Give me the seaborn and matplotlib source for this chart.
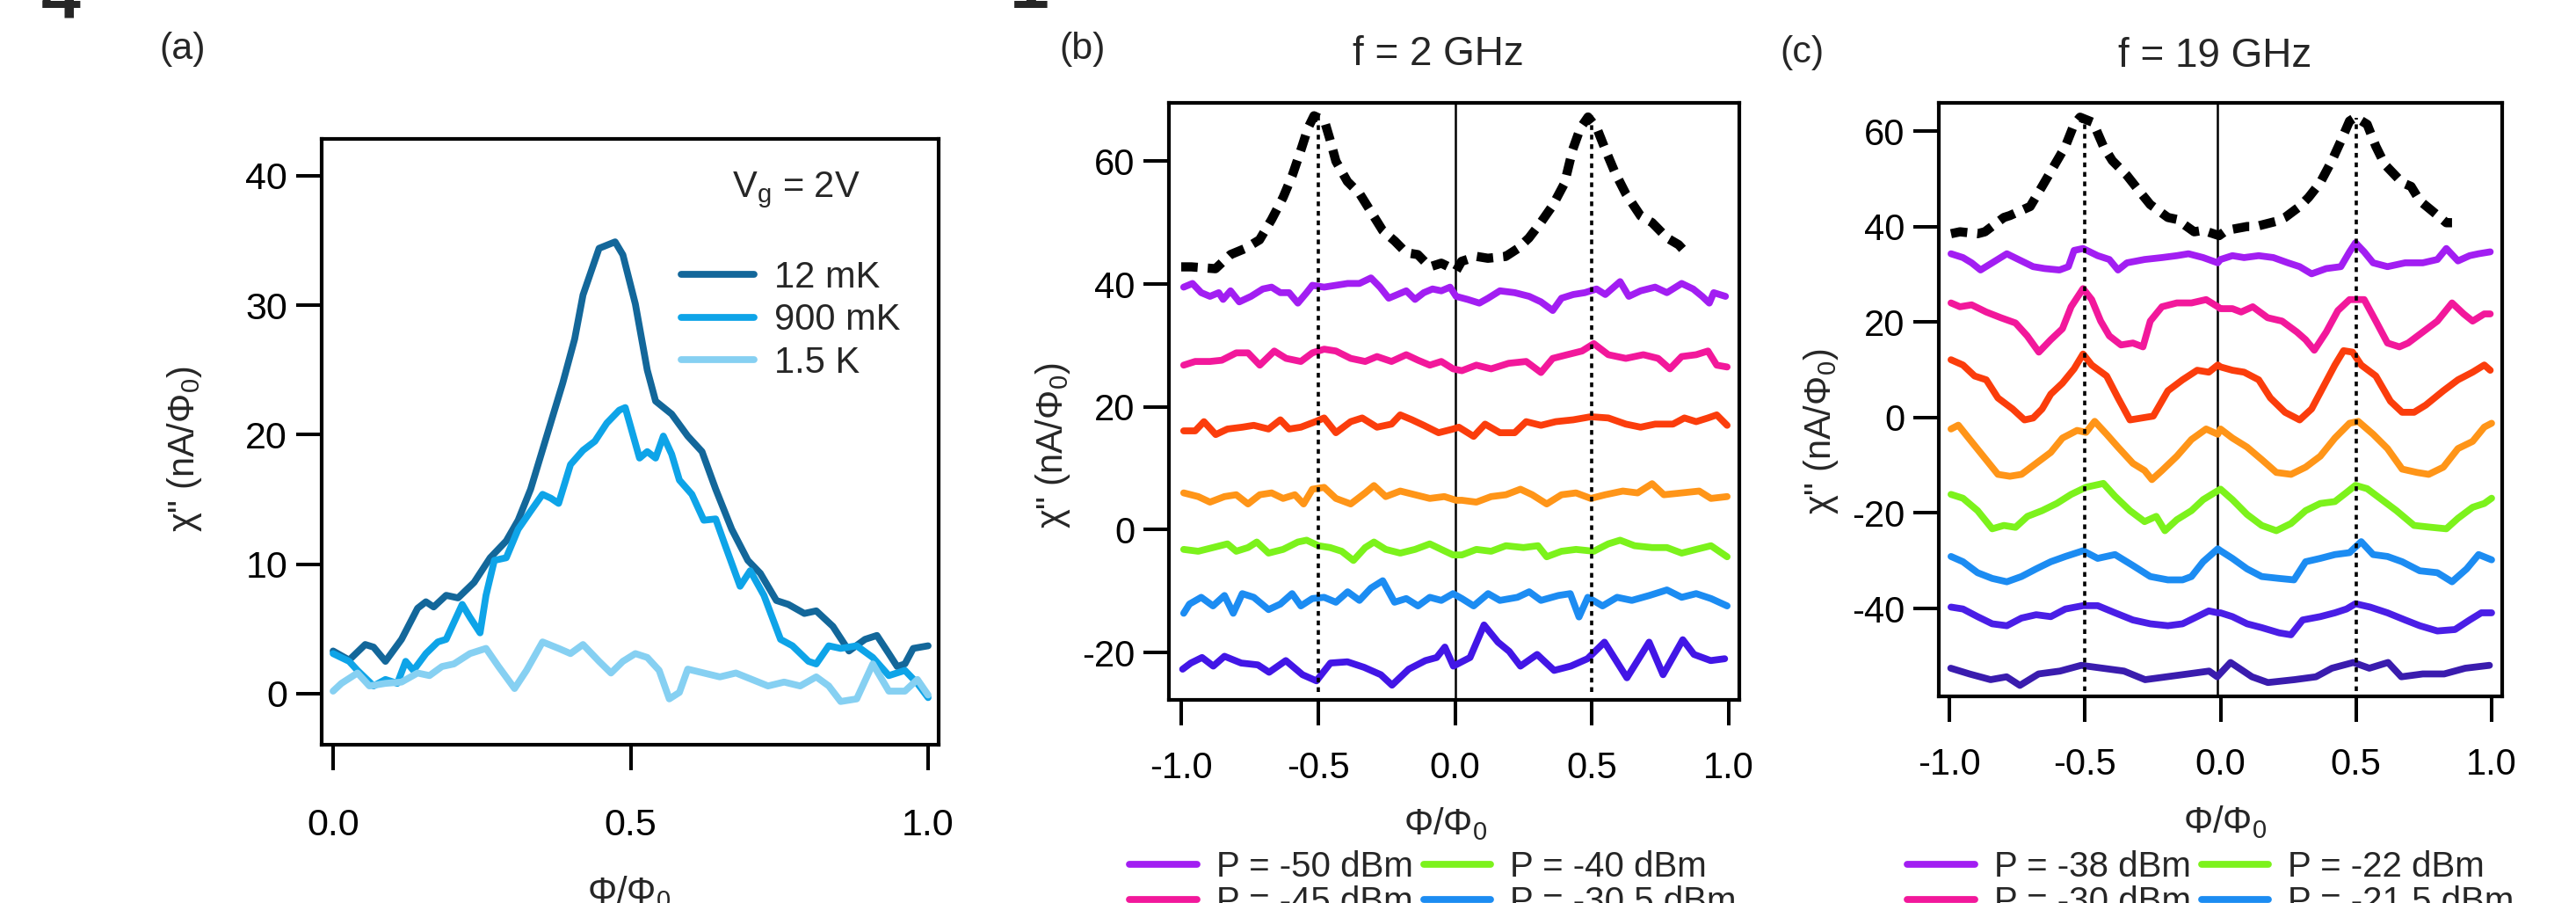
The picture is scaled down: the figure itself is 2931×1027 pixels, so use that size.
import matplotlib
matplotlib.use("Agg")
import matplotlib.pyplot as plt
import seaborn as sns
from matplotlib.lines import Line2D

# ---------------- data ----------------
# (a) temperature dependence, Vg = 2 V
a_12mK_x = [0.0, 0.027, 0.054, 0.068, 0.088, 0.115, 0.142, 0.156, 0.169, 0.190, 0.210, 0.237, 0.264, 0.291,
            0.311, 0.332, 0.359, 0.386, 0.406, 0.420, 0.447, 0.474, 0.487, 0.508, 0.528, 0.542, 0.569, 0.596,
            0.620, 0.643, 0.670, 0.697, 0.718, 0.745, 0.765, 0.792, 0.812, 0.840, 0.867, 0.894, 0.914, 0.934,
            0.948, 0.961, 0.975, 1.0]
a_12mK_y = [3.3, 2.6, 3.8, 3.6, 2.5, 4.2, 6.6, 7.1, 6.7, 7.6, 7.4, 8.6, 10.5, 11.8, 13.4, 15.8, 19.9, 24.0,
            27.4, 30.8, 34.4, 34.9, 33.9, 30.1, 25.0, 22.6, 21.6, 19.9, 18.7, 15.8, 12.7, 10.3, 9.3, 7.2, 6.9,
            6.2, 6.4, 5.2, 3.3, 4.2, 4.5, 3.1, 2.1, 2.3, 3.5, 3.7]
a_900mK_x = [0.0, 0.027, 0.041, 0.068, 0.088, 0.108, 0.122, 0.135, 0.156, 0.176, 0.190, 0.203, 0.217, 0.230,
             0.247, 0.257, 0.271, 0.291, 0.311, 0.332, 0.352, 0.366, 0.379, 0.399, 0.420, 0.440, 0.460, 0.481,
             0.491, 0.515, 0.528, 0.542, 0.555, 0.569, 0.582, 0.603, 0.623, 0.643, 0.657, 0.684, 0.701, 0.724,
             0.752, 0.772, 0.799, 0.812, 0.833, 0.853, 0.880, 0.907, 0.934, 0.961, 0.982, 1.0]
a_900mK_y = [3.1, 2.5, 1.8, 0.6, 1.1, 0.8, 2.5, 1.8, 3.1, 4.0, 4.2, 5.5, 6.9, 5.9, 4.7, 7.6, 10.3, 10.5, 12.7,
             14.1, 15.4, 15.1, 14.7, 17.7, 18.8, 19.5, 20.9, 21.9, 22.1, 18.2, 18.7, 18.2, 19.9, 18.5, 16.5,
             15.4, 13.4, 13.5, 11.7, 8.3, 9.5, 7.6, 4.2, 3.7, 2.5, 2.3, 3.7, 3.5, 3.7, 2.8, 1.4, 1.8, 0.8, -0.3]
a_1p5K_x = [0.0, 0.014, 0.041, 0.061, 0.088, 0.115, 0.142, 0.162, 0.183, 0.203, 0.230, 0.257, 0.278, 0.305,
            0.325, 0.352, 0.379, 0.399, 0.420, 0.447, 0.467, 0.487, 0.508, 0.528, 0.548, 0.565, 0.582, 0.596,
            0.623, 0.650, 0.677, 0.704, 0.731, 0.758, 0.785, 0.812, 0.833, 0.853, 0.880, 0.907, 0.934, 0.961,
            0.982, 1.0]
a_1p5K_y = [0.2, 0.8, 1.6, 0.6, 0.8, 0.9, 1.6, 1.4, 2.1, 2.3, 3.1, 3.5, 2.1, 0.4, 1.8, 4.0, 3.5, 3.1, 3.8, 2.5,
            1.6, 2.5, 3.1, 2.8, 1.8, -0.4, 0.1, 1.9, 1.6, 1.3, 1.6, 1.1, 0.6, 0.9, 0.6, 1.3, 0.6, -0.6, -0.4,
            2.3, 0.2, 0.2, 1.1, -0.1]
a_labels = ["12 mK", "900 mK", "1.5 K"]
a_colors = ["#13679a", "#0ea4e8", "#86d0f2"]

# (b) f = 2 GHz
b_ref_x = [-1.0, -0.963, -0.875, -0.82, -0.766, -0.714, -0.67, -0.628, -0.595, -0.563, -0.537, -0.515, -0.477,
           -0.457, -0.435, -0.393, -0.348, -0.306, -0.264, -0.22, -0.178, -0.136, -0.092, -0.05, 0.005, 0.024,
           0.079, 0.12, 0.185, 0.23, 0.27, 0.313, 0.357, 0.40, 0.43, 0.458, 0.486, 0.518, 0.55, 0.583, 0.624,
           0.678, 0.72, 0.775, 0.817, 0.85]
b_ref_y = [42.8, 42.8, 42.5, 44.8, 45.8, 47.2, 50.5, 54.1, 57.6, 61.8, 65.4, 67.4, 66.6, 63.6, 60.0, 56.7, 54.7,
           51.7, 48.7, 47.0, 45.1, 44.8, 42.8, 43.4, 42.2, 43.7, 44.5, 44.2, 44.5, 45.8, 47.5, 50.0, 52.8, 56.4,
           61.9, 65.4, 67.2, 65.4, 61.8, 58.3, 54.7, 51.1, 50.0, 47.5, 46.4, 44.8]
b_purple_x = [-0.991, -0.959, -0.927, -0.895, -0.863, -0.847, -0.82, -0.788, -0.745, -0.702, -0.67, -0.638,
              -0.606, -0.574, -0.542, -0.521, -0.478, -0.435, -0.392, -0.349, -0.307, -0.274, -0.242, -0.21,
              -0.178, -0.146, -0.114, -0.082, -0.05, -0.018, 0.004, 0.046, 0.089, 0.121, 0.164, 0.218, 0.271,
              0.314, 0.357, 0.389, 0.432, 0.474, 0.517, 0.549, 0.603, 0.635, 0.678, 0.731, 0.774, 0.828, 0.87,
              0.903, 0.929, 0.945, 0.988]
b_purple_y = [39.5, 40.1, 38.6, 38.0, 38.6, 37.5, 38.9, 37.1, 38.0, 39.2, 39.5, 38.6, 38.6, 36.9, 38.6, 39.8,
              39.5, 39.8, 40.1, 40.1, 41.0, 39.5, 37.7, 38.3, 38.9, 37.5, 38.6, 39.2, 38.9, 39.5, 38.0, 37.5,
              36.9, 37.7, 38.9, 38.6, 38.0, 37.1, 35.7, 37.7, 38.3, 38.6, 39.2, 38.3, 40.4, 38.0, 38.9, 39.5,
              38.6, 40.1, 39.2, 38.0, 36.9, 38.6, 38.0]
b_pink_x = [-0.991, -0.949, -0.895, -0.852, -0.799, -0.756, -0.713, -0.66, -0.617, -0.563, -0.521, -0.478,
            -0.435, -0.381, -0.328, -0.285, -0.232, -0.178, -0.135, -0.092, -0.05, -0.007, 0.025, 0.078, 0.132,
            0.196, 0.26, 0.314, 0.357, 0.41, 0.464, 0.507, 0.56, 0.624, 0.688, 0.742, 0.785, 0.828, 0.881,
            0.924, 0.956, 0.994]
b_pink_y = [26.8, 27.4, 27.4, 27.6, 28.8, 28.8, 26.8, 29.1, 27.9, 27.4, 28.8, 29.4, 29.1, 27.9, 27.4, 28.2,
            27.4, 28.5, 27.6, 26.8, 27.4, 26.2, 25.9, 26.8, 26.2, 27.1, 27.4, 25.6, 27.9, 28.5, 29.1, 30.3,
            28.5, 27.9, 28.5, 27.9, 26.2, 28.2, 28.5, 29.1, 26.8, 26.5]
b_red_x = [-0.991, -0.949, -0.917, -0.874, -0.831, -0.777, -0.735, -0.681, -0.638, -0.606, -0.563, -0.51,
           -0.478, -0.435, -0.381, -0.339, -0.285, -0.232, -0.2, -0.157, -0.114, -0.06, -0.007, 0.014, 0.068,
           0.11, 0.164, 0.218, 0.26, 0.314, 0.368, 0.432, 0.496, 0.56, 0.624, 0.678, 0.731, 0.796, 0.838,
           0.881, 0.924, 0.956, 0.994]
b_red_y = [16.1, 16.1, 17.6, 15.5, 16.4, 16.7, 17.0, 16.4, 17.9, 16.4, 16.7, 17.6, 18.2, 15.8, 17.6, 18.2,
           16.7, 17.2, 18.7, 17.9, 17.0, 15.8, 16.4, 16.7, 15.2, 17.2, 15.8, 15.8, 17.6, 17.0, 17.6, 17.9,
           18.4, 18.2, 17.2, 16.7, 17.2, 17.2, 18.2, 17.6, 18.2, 18.7, 17.0]
b_orange_x = [-0.991, -0.938, -0.895, -0.842, -0.799, -0.756, -0.713, -0.67, -0.628, -0.585, -0.553, -0.521,
              -0.478, -0.435, -0.381, -0.328, -0.296, -0.253, -0.2, -0.146, -0.092, -0.039, 0.004, 0.025,
              0.078, 0.132, 0.186, 0.239, 0.282, 0.335, 0.389, 0.442, 0.496, 0.549, 0.613, 0.667, 0.72, 0.763,
              0.828, 0.892, 0.935, 0.994]
b_orange_y = [6.0, 5.4, 4.5, 5.4, 5.7, 4.2, 5.7, 6.0, 5.1, 5.7, 4.2, 6.6, 6.9, 5.1, 4.2, 6.0, 7.2, 5.4, 6.3,
              5.7, 5.1, 5.4, 4.8, 4.8, 4.5, 5.4, 5.7, 6.6, 5.7, 4.2, 5.7, 6.0, 5.1, 5.7, 6.3, 6.0, 7.5, 5.7,
              6.0, 6.3, 5.1, 5.4]
b_green_x = [-0.991, -0.938, -0.884, -0.831, -0.799, -0.756, -0.724, -0.681, -0.628, -0.574, -0.542, -0.499,
             -0.456, -0.414, -0.371, -0.328, -0.296, -0.253, -0.2, -0.146, -0.092, -0.05, -0.007, 0.025, 0.078,
             0.132, 0.186, 0.25, 0.303, 0.335, 0.389, 0.442, 0.507, 0.56, 0.603, 0.656, 0.72, 0.774, 0.828,
             0.881, 0.935, 0.994]
b_green_y = [-3.2, -3.5, -2.9, -2.3, -3.5, -2.9, -2.0, -3.8, -3.2, -2.0, -1.7, -2.6, -2.9, -3.5, -5.0, -2.9,
             -2.0, -3.2, -3.8, -3.2, -2.3, -3.2, -4.1, -4.1, -3.2, -3.5, -2.6, -2.9, -2.6, -4.4, -3.5, -3.2,
             -3.5, -2.3, -1.7, -2.6, -2.9, -2.9, -3.8, -3.2, -2.6, -4.4]
b_blue_x = [-0.991, -0.97, -0.927, -0.884, -0.842, -0.81, -0.777, -0.735, -0.681, -0.638, -0.595, -0.563,
            -0.521, -0.478, -0.435, -0.392, -0.349, -0.307, -0.264, -0.221, -0.178, -0.135, -0.092, -0.05,
            -0.007, 0.025, 0.068, 0.121, 0.164, 0.228, 0.271, 0.314, 0.378, 0.421, 0.453, 0.485, 0.539, 0.592,
            0.646, 0.71, 0.774, 0.828, 0.881, 0.935, 0.994]
b_blue_y = [-13.6, -12.1, -11.0, -12.4, -10.7, -13.6, -10.4, -11.0, -13.0, -12.1, -10.4, -12.4, -11.2, -11.0,
            -11.8, -10.1, -11.5, -9.5, -8.3, -11.8, -11.2, -12.4, -11.0, -11.5, -10.4, -11.2, -12.4, -10.4,
            -11.5, -11.0, -10.1, -11.5, -10.7, -10.4, -14.2, -11.0, -12.4, -11.0, -11.5, -10.7, -9.8, -11.0,
            -10.4, -11.2, -12.4]
b_indigo_x = [-0.995, -0.965, -0.924, -0.883, -0.842, -0.781, -0.72, -0.679, -0.618, -0.557, -0.506, -0.455,
              -0.393, -0.332, -0.271, -0.23, -0.169, -0.108, -0.067, -0.037, -0.006, 0.055, 0.106, 0.157,
              0.198, 0.239, 0.3, 0.362, 0.423, 0.484, 0.546, 0.628, 0.709, 0.76, 0.832, 0.873, 0.934, 0.985]
b_indigo_y = [-22.7, -21.7, -20.8, -22.2, -20.6, -21.7, -22.0, -23.2, -21.3, -23.6, -24.6, -21.7, -21.5,
              -22.4, -23.6, -25.3, -22.7, -21.3, -20.8, -19.1, -22.2, -20.8, -15.5, -18.3, -19.8, -22.2,
              -20.3, -22.9, -22.2, -21.0, -18.3, -24.1, -18.3, -23.6, -17.9, -20.3, -21.3, -21.0]
b_legend = ["P = -50 dBm", "P = -45 dBm", "P = -40 dBm", "P = -30.5 dBm"]

# (c) f = 19 GHz
c_ref_x = [-0.994, -0.961, -0.896, -0.869, -0.799, -0.777, -0.702, -0.658, -0.615, -0.572, -0.54, -0.518,
           -0.47, -0.432, -0.399, -0.345, -0.302, -0.259, -0.194, -0.161, -0.097, -0.064, -0.005, 0.022, 0.098,
           0.13, 0.206, 0.238, 0.292, 0.325, 0.368, 0.411, 0.444, 0.476, 0.498, 0.541, 0.573, 0.606, 0.67,
           0.703, 0.735, 0.778, 0.833, 0.854]
c_ref_y = [38.5, 38.9, 38.5, 38.9, 41.9, 42.3, 44.2, 48.4, 52.6, 56.8, 61.4, 62.9, 61.8, 56.8, 53.8, 50.7,
           47.6, 44.6, 41.9, 41.5, 38.9, 39.2, 38.1, 39.2, 40.0, 40.0, 41.1, 41.9, 44.2, 46.1, 49.2, 53.8,
           57.9, 62.1, 62.9, 61.4, 56.8, 53.0, 49.2, 48.4, 45.4, 43.4, 40.8, 40.8]
c_purple_x = [-0.994, -0.95, -0.918, -0.885, -0.842, -0.788, -0.745, -0.691, -0.648, -0.594, -0.561, -0.54,
              -0.507, -0.453, -0.41, -0.378, -0.345, -0.28, -0.216, -0.161, -0.118, -0.064, -0.01, 0.0, 0.044,
              0.087, 0.141, 0.195, 0.249, 0.292, 0.336, 0.39, 0.444, 0.476, 0.498, 0.53, 0.563, 0.616, 0.681,
              0.746, 0.8, 0.833, 0.876, 0.919, 0.952, 0.995]
c_purple_y = [34.3, 33.5, 32.4, 30.9, 32.4, 34.3, 33.1, 31.6, 31.2, 30.9, 31.6, 35.0, 35.4, 33.9, 33.1, 30.9,
              32.4, 33.1, 33.5, 33.9, 34.3, 33.5, 32.4, 33.1, 33.9, 33.5, 33.9, 33.5, 32.4, 31.6, 30.1, 31.2,
              31.6, 34.7, 36.6, 34.7, 32.4, 31.6, 32.4, 32.4, 33.1, 35.4, 32.8, 33.9, 34.3, 34.7]
c_pink_x = [-0.994, -0.961, -0.918, -0.864, -0.81, -0.756, -0.713, -0.67, -0.626, -0.583, -0.551, -0.507,
            -0.475, -0.442, -0.41, -0.367, -0.323, -0.286, -0.259, -0.216, -0.161, -0.107, -0.053, -0.01, 0.0,
            0.044, 0.076, 0.119, 0.174, 0.227, 0.282, 0.314, 0.346, 0.39, 0.433, 0.476, 0.53, 0.573, 0.616,
            0.66, 0.692, 0.746, 0.8, 0.854, 0.897, 0.93, 0.973, 0.995]
c_pink_y = [24.0, 23.2, 23.6, 22.1, 20.9, 19.8, 17.1, 13.7, 16.3, 18.6, 23.2, 27.0, 24.7, 20.2, 17.1, 15.2,
            15.6, 14.8, 20.2, 23.2, 24.0, 24.0, 24.7, 23.2, 22.8, 22.8, 22.1, 23.2, 20.9, 20.2, 17.9, 16.3,
            14.1, 17.9, 22.4, 24.7, 24.7, 20.2, 15.6, 14.8, 15.6, 17.9, 20.2, 24.0, 21.7, 20.2, 21.7, 21.7]
c_red_x = [-0.994, -0.95, -0.907, -0.864, -0.821, -0.767, -0.723, -0.691, -0.658, -0.626, -0.583, -0.54,
           -0.507, -0.475, -0.42, -0.378, -0.334, -0.291, -0.248, -0.194, -0.14, -0.086, -0.043, -0.01, 0.0,
           0.044, 0.087, 0.141, 0.184, 0.238, 0.292, 0.336, 0.379, 0.422, 0.454, 0.487, 0.519, 0.573, 0.627,
           0.67, 0.714, 0.757, 0.822, 0.876, 0.93, 0.973, 0.995]
c_red_y = [12.1, 11.0, 8.7, 7.9, 4.1, 1.8, -0.5, -0.1, 1.8, 4.9, 7.2, 10.2, 13.3, 11.0, 8.7, 4.1, -0.5, -0.1,
           0.3, 5.6, 7.9, 9.9, 9.5, 11.0, 10.6, 9.9, 9.5, 7.9, 4.1, 1.1, -0.5, 1.8, 6.4, 11.0, 14.0, 13.7,
           11.0, 8.7, 3.4, 1.1, 1.1, 2.6, 5.6, 7.9, 9.5, 11.0, 9.9]
c_orange_x = [-0.994, -0.967, -0.929, -0.875, -0.821, -0.777, -0.734, -0.68, -0.626, -0.583, -0.529, -0.496,
              -0.464, -0.42, -0.378, -0.323, -0.28, -0.253, -0.216, -0.161, -0.107, -0.053, -0.01, 0.0, 0.044,
              0.098, 0.152, 0.206, 0.26, 0.314, 0.368, 0.422, 0.476, 0.508, 0.563, 0.616, 0.67, 0.725, 0.768,
              0.822, 0.876, 0.93, 0.973, 1.0]
c_orange_y = [-2.4, -1.6, -4.3, -8.1, -11.9, -12.3, -11.9, -9.6, -7.3, -4.3, -2.7, -3.1, -0.8, -3.5, -6.2,
              -9.6, -11.1, -13.0, -11.1, -8.1, -4.6, -2.4, -3.5, -2.4, -4.3, -6.2, -8.8, -11.5, -11.9, -10.4,
              -8.1, -4.3, -1.2, -0.8, -3.5, -6.5, -10.8, -11.5, -11.9, -10.4, -6.5, -5.0, -2.0, -1.2]
c_green_x = [-0.994, -0.95, -0.896, -0.842, -0.799, -0.756, -0.712, -0.658, -0.604, -0.551, -0.496, -0.432,
             -0.389, -0.334, -0.28, -0.237, -0.205, -0.161, -0.107, -0.064, -0.021, 0.0, 0.044, 0.098, 0.152,
             0.206, 0.26, 0.314, 0.368, 0.422, 0.465, 0.498, 0.541, 0.595, 0.649, 0.714, 0.779, 0.833, 0.876,
             0.93, 0.973, 1.0]
c_green_y = [-16.1, -16.9, -19.5, -23.3, -22.6, -23.0, -20.7, -19.5, -18.0, -16.1, -14.6, -13.8, -16.5,
             -19.5, -21.8, -20.7, -23.7, -21.4, -19.5, -17.2, -15.7, -15.0, -17.2, -20.3, -22.6, -23.7, -22.2,
             -19.5, -18.0, -17.6, -15.7, -14.2, -14.9, -17.2, -19.5, -22.6, -23.0, -23.3, -21.1, -18.8, -18.0,
             -16.9]
c_blue_x = [-0.994, -0.95, -0.896, -0.842, -0.788, -0.734, -0.68, -0.626, -0.572, -0.507, -0.453, -0.389,
            -0.323, -0.259, -0.194, -0.14, -0.107, -0.064, -0.01, 0.0, 0.044, 0.098, 0.152, 0.217, 0.271,
            0.314, 0.368, 0.422, 0.476, 0.519, 0.563, 0.616, 0.67, 0.735, 0.8, 0.854, 0.908, 0.952, 1.0]
c_blue_y = [-29.1, -30.2, -32.5, -33.7, -34.4, -33.3, -31.7, -30.2, -29.1, -27.9, -29.5, -28.7, -31.0, -33.3,
            -34.0, -34.0, -33.3, -30.2, -27.5, -27.9, -29.5, -31.7, -33.3, -33.7, -34.0, -30.2, -29.5, -28.7,
            -28.3, -26.0, -28.7, -29.1, -30.2, -32.1, -32.5, -34.4, -31.7, -28.7, -29.8]
c_violet_x = [-0.994, -0.95, -0.896, -0.842, -0.788, -0.734, -0.68, -0.626, -0.572, -0.507, -0.453, -0.389,
              -0.323, -0.259, -0.194, -0.14, -0.086, -0.043, -0.01, 0.0, 0.044, 0.098, 0.152, 0.217, 0.26,
              0.303, 0.368, 0.422, 0.465, 0.498, 0.552, 0.616, 0.681, 0.735, 0.8, 0.865, 0.919, 0.962, 1.0]
c_violet_y = [-39.7, -40.1, -41.7, -43.2, -43.6, -42.0, -41.3, -41.7, -40.1, -39.4, -39.4, -40.9, -42.4,
              -43.2, -43.6, -43.2, -41.7, -40.5, -40.9, -40.9, -41.7, -43.2, -44.0, -45.1, -45.5, -42.4, -41.7,
              -40.9, -40.1, -39.0, -39.7, -40.9, -42.4, -43.6, -44.7, -44.4, -42.4, -40.9, -40.9]
c_indigo_x = [-0.995, -0.926, -0.848, -0.789, -0.74, -0.671, -0.592, -0.514, -0.435, -0.356, -0.278, -0.199,
              -0.12, -0.042, -0.012, 0.037, 0.116, 0.175, 0.273, 0.352, 0.411, 0.49, 0.549, 0.618, 0.667, 0.746,
              0.825, 0.903, 0.992]
c_indigo_y = [-52.5, -53.7, -54.9, -54.3, -56.1, -53.7, -53.1, -51.9, -52.5, -53.1, -54.9, -54.3, -53.7,
              -53.1, -54.3, -51.3, -54.3, -55.5, -54.9, -54.3, -52.5, -51.3, -52.5, -51.3, -54.3, -53.7, -53.7,
              -52.5, -51.9]
c_legend = ["P = -38 dBm", "P = -30 dBm", "P = -22 dBm", "P = -21.5 dBm"]

trace_colors = {
    "purple": "#a21ef2", "pink": "#f2189b", "red": "#fb3d0c", "orange": "#ff9518",
    "green": "#7cf21c", "blue": "#1c8cf2", "indigo": "#4216e6", "violet": "#4a1ee6",
    "deep": "#3a1cae",
}

# ---------------- style ----------------
sns.set_theme(style="ticks")
plt.rcParams["font.family"] = ["Liberation Sans", "DejaVu Sans"]
plt.rcParams["mathtext.fontset"] = "custom"
plt.rcParams["mathtext.rm"] = "Liberation Sans"
plt.rcParams["mathtext.it"] = "Liberation Sans:italic"
plt.rcParams["mathtext.sf"] = "Liberation Sans"
plt.rcParams["axes.unicode_minus"] = False

W, H = 2931, 1027
fig = plt.figure(figsize=(W / 100, H / 100), dpi=100)
fig.patch.set_facecolor("white")

LABEL_FS = 29
TRACE_LW = 5.6


def px_axes(l, t, r, b):
    return fig.add_axes([l / W, 1 - b / H, (r - l) / W, (b - t) / H])


def ftext(x, y, s, **kw):
    fig.text(x / W, 1 - y / H, s, **kw)


def style_axes(ax, xpad, tick_fs):
    for sp in ax.spines.values():
        sp.set_linewidth(3.0)
        sp.set_color("black")
        sp.set_visible(True)
    ax.tick_params(axis="both", direction="out", length=21, width=2.9, colors="black",
                   labelsize=tick_fs)
    ax.tick_params(axis="y", pad=7)
    ax.tick_params(axis="x", pad=xpad)
    ax.set_facecolor("white")
    ax.set_xlabel("")
    ax.set_ylabel("")


def trace(ax, xs, ys, color, lw=TRACE_LW, **kw):
    sns.lineplot(x=xs, y=ys, ax=ax, color=color, linewidth=lw, estimator=None, sort=False,
                 legend=False, **kw)


# ---------------- panel (a) ----------------
ax_a = px_axes(366, 158, 1068, 847)
for xs, ys, c in zip([a_12mK_x, a_900mK_x, a_1p5K_x], [a_12mK_y, a_900mK_y, a_1p5K_y], a_colors):
    trace(ax_a, xs, ys, c)
ax_a.set_xlim(-0.0192, 1.0177)
ax_a.set_ylim(-3.94, 42.85)
ax_a.set_yticks([0, 10, 20, 30, 40])
ax_a.set_xticks([0.0, 0.5, 1.0])
ax_a.set_xticklabels(["0.0", "0.5", "1.0"])
style_axes(ax_a, xpad=31, tick_fs=31)
handles_a = [Line2D([], [], color=c, lw=TRACE_LW) for c in a_colors]
ax_a.legend(handles_a, a_labels, loc="upper left", bbox_to_anchor=(775 / W, 1 - 296 / H),
            bbox_transform=fig.transFigure, frameon=False, borderpad=0, borderaxespad=0,
            handlelength=2.0, handletextpad=0.55, labelspacing=0.2, fontsize=30)
ftext(906, 216, r"V$_\mathrm{g}$ = 2V", fontsize=30, ha="center", va="center")


def power_panel(ax, ref_x, ref_y, traces, xlim, ylim, yticks, zero_x, dot_span, legend_labels,
                legend_anchor, colsp):
    ax.axvline(zero_x, color="black", lw=1.8, zorder=1)
    ax.vlines([-0.5, 0.5], dot_span[0], dot_span[1], colors="black", lw=2.6,
              linestyles=[(0, (1.5, 1.5))], zorder=3)
    trace(ax, ref_x, ref_y, "black", lw=7.5, linestyle=(0, (1.8, 1.1)), dash_capstyle="butt", zorder=4)
    for xs, ys, c in traces:
        trace(ax, xs, ys, c, zorder=2)
    ax.set_xlim(*xlim)
    ax.set_ylim(*ylim)
    ax.set_yticks(yticks)
    ax.set_xticks([-1.0, -0.5, 0.0, 0.5, 1.0])
    ax.set_xticklabels(["-1.0", "-0.5", "0.0", "0.5", "1.0"])
    style_axes(ax, xpad=21, tick_fs=30)
    leg_cols = [traces[0][2], traces[1][2], traces[4][2], traces[5][2]]
    handles = [Line2D([], [], color=c, lw=TRACE_LW) for c in leg_cols]
    ax.legend(handles, legend_labels, loc="upper left", ncol=2, bbox_to_anchor=legend_anchor,
              bbox_transform=fig.transFigure, frameon=False, borderpad=0, borderaxespad=0,
              handlelength=1.9, handletextpad=0.55, labelspacing=0.05, columnspacing=colsp,
              fontsize=LABEL_FS)


# ---------------- panel (b) ----------------
ax_b = px_axes(1330, 117, 1979, 796)
b_traces = [
    (b_purple_x, b_purple_y, trace_colors["purple"]),
    (b_pink_x, b_pink_y, trace_colors["pink"]),
    (b_red_x, b_red_y, trace_colors["red"]),
    (b_orange_x, b_orange_y, trace_colors["orange"]),
    (b_green_x, b_green_y, trace_colors["green"]),
    (b_blue_x, b_blue_y, trace_colors["blue"]),
    (b_indigo_x, b_indigo_y, trace_colors["indigo"]),
]
power_panel(ax_b, b_ref_x, b_ref_y, b_traces, (-1.045, 1.0385), (-27.7, 69.5), [-20, 0, 20, 40, 60],
            0.0, (-26.4, 67.6), b_legend, (1285 / W, 1 - 967 / H), 0.3)

# ---------------- panel (c) ----------------
ax_c = px_axes(2206, 117, 2847, 792)
c_traces = [
    (c_purple_x, c_purple_y, trace_colors["purple"]),
    (c_pink_x, c_pink_y, trace_colors["pink"]),
    (c_red_x, c_red_y, trace_colors["red"]),
    (c_orange_x, c_orange_y, trace_colors["orange"]),
    (c_green_x, c_green_y, trace_colors["green"]),
    (c_blue_x, c_blue_y, trace_colors["blue"]),
    (c_violet_x, c_violet_y, trace_colors["violet"]),
    (c_indigo_x, c_indigo_y, trace_colors["deep"]),
]
power_panel(ax_c, c_ref_x, c_ref_y, c_traces, (-1.039, 1.039), (-58.4, 65.9), [-40, -20, 0, 20, 40, 60],
            -0.01, (-57.3, 62.8), c_legend, (2170 / W, 1 - 967 / H), 0.3)

# ---------------- shared text ----------------
ylab = "χ\" (nA/Φ$_0$)"
xlab = "Φ/Φ$_0$"
for x, y in [(210, 511), (1198, 507), (2072, 491)]:
    ftext(x, y, ylab, fontsize=30, rotation=90, ha="center", va="center")
for x, y in [(716, 994), (1645, 916), (2532, 914)]:
    ftext(x, y, xlab, fontsize=30, ha="center", va="top")

ftext(1636, 62, "f = 2 GHz", fontsize=33, ha="center", va="center")
ftext(2520, 64, "f = 19 GHz", fontsize=33, ha="center", va="center")
for x, y, s in [(208, 56, "(a)"), (1232, 56, "(b)"), (2050, 60, "(c)")]:
    ftext(x, y, s, fontsize=31, ha="center", va="center")

# figure-number glyphs along the top edge
ftext(47, 20, "4", fontsize=58, fontweight="bold", ha="left", va="baseline")
ftext(1149, 9, "1", fontsize=58, fontweight="bold", ha="left", va="baseline")

fig.savefig("out.png", dpi=100, facecolor="white")
